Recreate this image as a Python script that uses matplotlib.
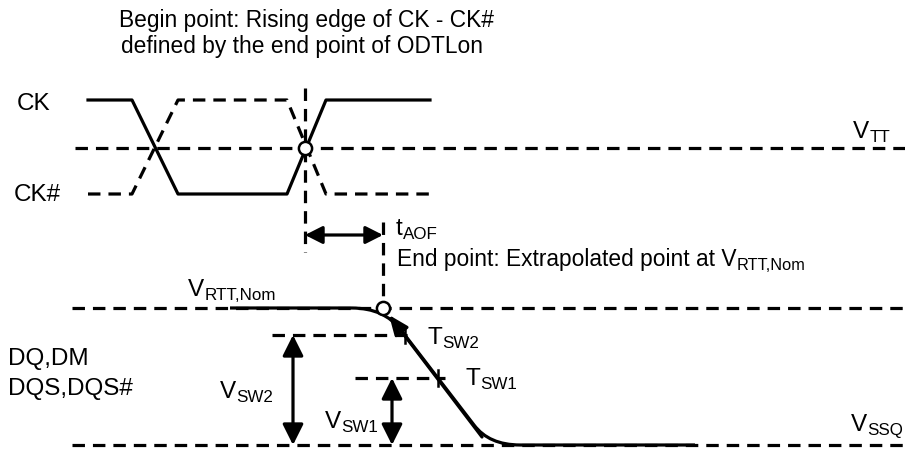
import numpy as np
import matplotlib
matplotlib.use("Agg")
import matplotlib.pyplot as plt
from matplotlib.path import Path
from matplotlib.patches import PathPatch, FancyArrowPatch

plt.rcParams['font.family'] = ['Liberation Sans', 'DejaVu Sans']

# ── Levels (pixel units, y grows downwards) ─────────────────────────────────
y_ck_high, y_vtt, y_ck_low = 100, 148, 194
y_vrtt, y_tsw2, y_tsw1, y_vssq = 308, 335, 378, 445

# clock edges
ck_x = [88, 132, 178, 287, 326, 430]
ck_y = [y_ck_high, y_ck_high, y_ck_low, y_ck_low, y_ck_high, y_ck_high]
ckb_y = [y_ck_low, y_ck_low, y_ck_high, y_ck_high, y_ck_low, y_ck_low]

# DQ falling edge: flat, bend, slope, bend, flat
dq_pts = [(230, y_vrtt), (352, y_vrtt), (384, y_vrtt), (401, 330),
          (474, 425), (489, y_vssq), (520, y_vssq), (695, y_vssq)]
dq_codes = [Path.MOVETO, Path.LINETO, Path.CURVE3, Path.CURVE3,
            Path.LINETO, Path.CURVE3, Path.CURVE3, Path.LINETO]

# extrapolation line (tail, tip) and switching points
extrap = [(482, 437), (389, 315)]
tsw_x = [405, 438]
tsw_y = [y_tsw2, y_tsw1]

begin_x, end_x = 305, 383
vsw2_x, vsw1_x = 293, 392

LW = 2.3
DASH = (3.9, 2.5)

fig = plt.figure(figsize=(9.05, 4.5), dpi=100)
ax = fig.add_axes([0, 0, 1, 1])
ax.set_xlim(0, 905)
ax.set_ylim(450, 0)
ax.axis('off')


def dashed(xs, ys, lw=LW):
    ax.plot(xs, ys, color='black', lw=lw, dashes=DASH, dash_capstyle='butt')


def arrow(p0, p1, style, hl=0.6, hw=0.3, ms=14):
    a = FancyArrowPatch(p0, p1, arrowstyle=f"{style},head_length={hl},head_width={hw}",
                        mutation_scale=ms, color='black', lw=LW,
                        shrinkA=0, shrinkB=0)
    ax.add_patch(a)


def label(x, y, main, sub, fs, sub_scale=0.7):
    # main text on baseline y, smaller subscript tacked on right after it
    t = ax.text(x, y, main, fontsize=fs, va='baseline')
    ax.annotate(sub, xy=(1, 0), xycoords=t, xytext=(0.3, -1.2),
                textcoords='offset points', fontsize=fs * sub_scale, va='bottom')


# reference levels
dashed([75, 905], [y_vtt, y_vtt])
dashed([72, 905], [y_vrtt, y_vrtt])
dashed([72, 905], [y_vssq, y_vssq])

# clock pair
ax.plot(ck_x, ck_y, color='black', lw=LW)
dashed(ck_x, ckb_y)

# begin / end markers
dashed([begin_x, begin_x], [88, 252])
dashed([end_x, end_x], [222, 302])
arrow((begin_x, 235), (end_x, 235), '<|-|>', hl=0.75, hw=0.38, ms=14)

# DQ waveform
ax.add_patch(PathPatch(Path(dq_pts, dq_codes), fill=False, lw=LW, color='black'))
arrow(extrap[0], extrap[1], '-|>', hl=0.85, hw=0.35, ms=14)

# switching threshold levels
dashed([272, 410], [y_tsw2, y_tsw2])
dashed([355, 445], [y_tsw1, y_tsw1])
for tx, ty in zip(tsw_x, tsw_y):
    ax.plot([tx, tx], [ty - 8, ty + 8], color='black', lw=1.8)

arrow((vsw2_x, y_tsw2), (vsw2_x, y_vssq), '<|-|>', hl=0.9, hw=0.45, ms=14)
arrow((vsw1_x, y_tsw1), (vsw1_x, y_vssq), '<|-|>', hl=0.9, hw=0.45, ms=14)

# open circles at begin / end points
ax.plot([begin_x, end_x], [y_vtt, y_vrtt], 'o', ms=9.5, mfc='white', mec='black',
        mew=1.8, zorder=5)

# ── Text ────────────────────────────────────────────────────────────────────
fs_title = 16.4
fs_lab = 17.5
ax.text(119, 20, "Begin point: Rising edge of CK - CK#", fontsize=fs_title,
        va='center')
ax.text(121, 47, "defined by the end point of ODTLon", fontsize=fs_title,
        va='center')
ax.text(17, 104, "CK", fontsize=fs_lab, va='center')
ax.text(14, 195, "CK#", fontsize=fs_lab, va='center')
ax.text(8, 359, "DQ,DM", fontsize=fs_lab, va='center')
ax.text(8, 389, "DQS,DQS#", fontsize=fs_lab, va='center')

label(853, 138, "V", "TT", fs_lab)
label(851, 431, "V", "SSQ", fs_lab)
label(396, 235, "t", "AOF", fs_lab)
label(397, 266, "End point: Extrapolated point at V", "RTT,Nom", fs_title, 0.72)
label(188, 296, "V", "RTT,Nom", fs_lab)
label(220, 398, "V", "SW2", fs_lab)
label(325, 428, "V", "SW1", fs_lab)
label(427, 344, "T", "SW2", fs_lab)
label(465, 385, "T", "SW1", fs_lab)

fig.savefig("out.png", dpi=100)
